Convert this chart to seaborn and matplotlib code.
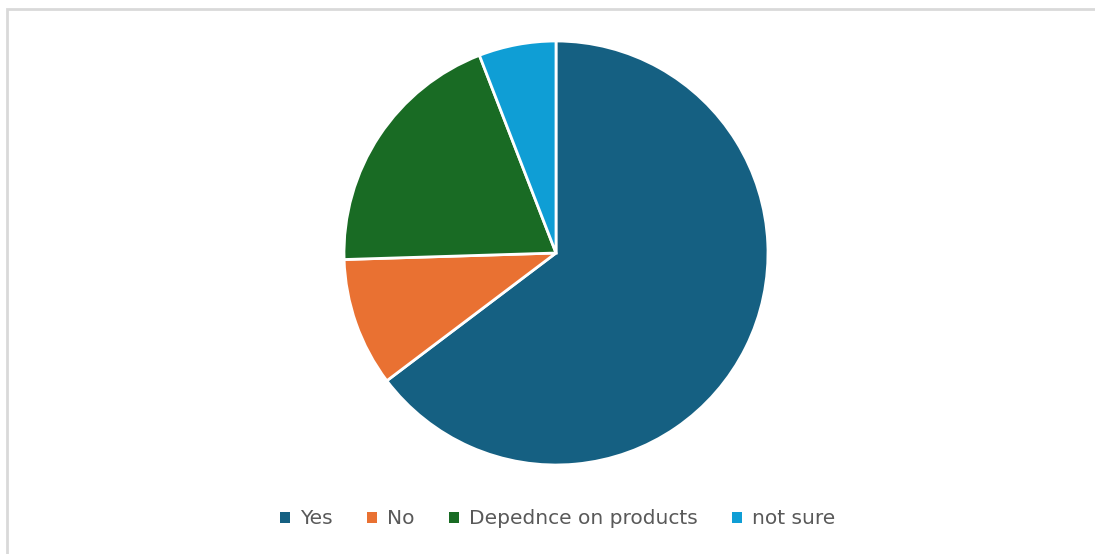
import matplotlib
matplotlib.use("Agg")
import matplotlib.pyplot as plt
from matplotlib.patches import Patch, Rectangle
import seaborn as sns

LABELS = ["Yes", "No", "Depednce on products", "not sure"]
COUNTS = [33, 5, 10, 3]
COLORS = ["#156082", "#E97132", "#196B24", "#0F9ED5"]

sns.set_theme(style="white")
plt.rcParams["font.family"] = ["DejaVu Sans"]
palette = sns.color_palette(COLORS)

W, H = 1095, 554
fig = plt.figure(figsize=(W / 100, H / 100), dpi=100)

# light grey chart frame (right and bottom edges fall outside the image)
fig.patches.append(Rectangle((7 / W, -0.05), 1.1, 1 - 9 / H + 0.05,
                             transform=fig.transFigure, fill=False,
                             edgecolor="#d9d9d9", linewidth=2))

cx, cy, r = 556 / W, 1 - 253 / H, 212
ax = fig.add_axes([cx - r / W, cy - r / H, 2 * r / W, 2 * r / H])
ax.pie(COUNTS, colors=palette, startangle=90, counterclock=False,
       wedgeprops={"edgecolor": "white", "linewidth": 2})
ax.set_xlim(-1, 1)
ax.set_ylim(-1, 1)
ax.set_aspect("equal")
ax.axis("off")

handles = [Patch(facecolor=c, edgecolor="none") for c in palette]
fig.legend(handles, LABELS, loc="center", bbox_to_anchor=(558 / W, 1 - 519 / H),
           ncol=4, frameon=False, fontsize=14.5, labelcolor="#595959",
           handlelength=0.5, handleheight=0.5, handletextpad=0.5,
           columnspacing=1.7)

fig.savefig("out.png", dpi=100)
plt.close(fig)
